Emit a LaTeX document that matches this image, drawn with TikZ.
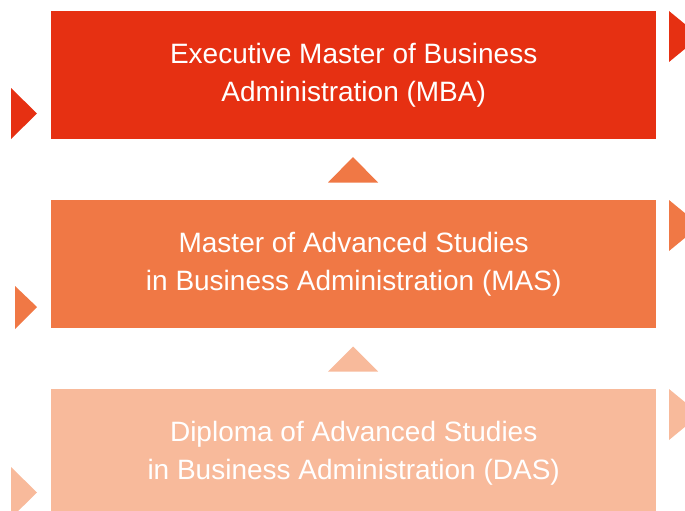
\documentclass[tikz,border=0pt]{standalone}
\usepackage{fontspec}
\setmainfont{Liberation Sans}
\usetikzlibrary{calc}
\definecolor{cred}{HTML}{E63012}
\definecolor{corange}{HTML}{F07845}
\definecolor{clight}{HTML}{F8BA9B}
\begin{document}
\begin{tikzpicture}[x=1pt,y=-1pt,
  progbox/.style={anchor=north west,minimum width=605pt,minimum height=128pt,
    inner sep=0pt,text=white,align=center,
    font=\fontsize{28}{37.5}\selectfont},
]
\useasboundingbox (0,0) rectangle (685,511);
% boxes
\node[progbox,fill=cred] (mba) at (51,11) {Executive Master of Business\\Administration (MBA)};
\node[progbox,fill=corange] (mas) at (51,200) {Master of Advanced Studies\\in Business Administration (MAS)};
\node[progbox,fill=clight] (das) at (51,389) {Diploma of Advanced Studies\\in Business Administration (DAS)};
% up triangles between boxes
\fill[corange] (328,182.5) -- (353,157) -- (378,182.5) -- cycle;
\fill[clight] (328,371.5) -- (353,346.5) -- (378,371.5) -- cycle;
% left triangles
\fill[cred] (11,88) -- (37,113.5) -- (11,139) -- cycle;
\fill[corange] (15,286) -- (37,307) -- (15,329) -- cycle;
\fill[clight] (11,467) -- (37,492.5) -- (11,518) -- cycle;
% right triangles
\fill[cred] (669,11) -- (700,36.5) -- (669,62) -- cycle;
\fill[corange] (669,200) -- (700,225.5) -- (669,251) -- cycle;
\fill[clight] (669,389) -- (700,414.5) -- (669,440) -- cycle;
\end{tikzpicture}
\end{document}
